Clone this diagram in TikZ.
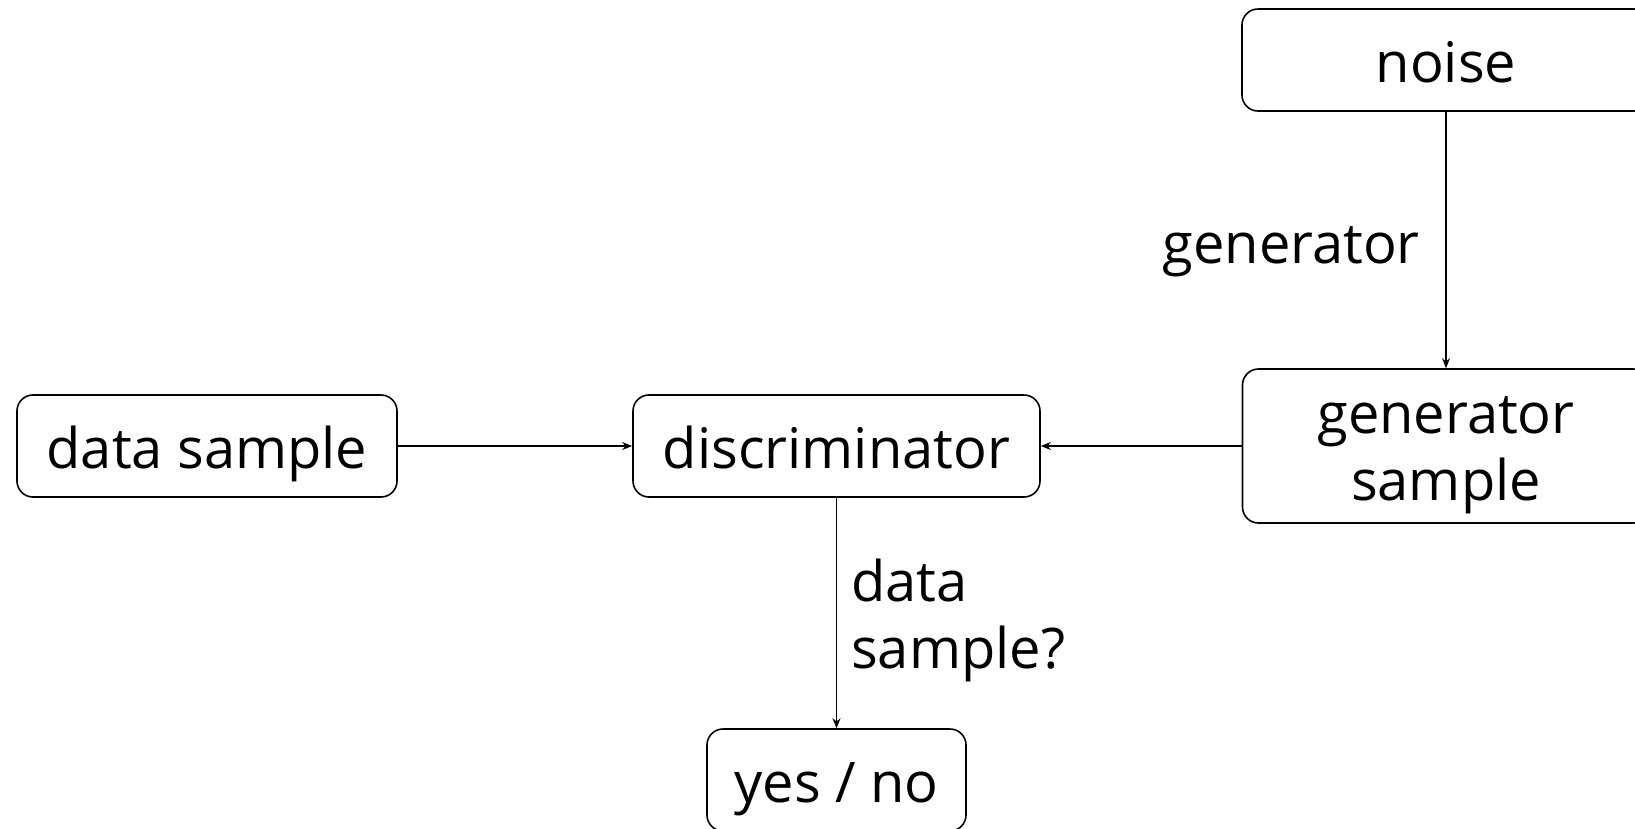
\documentclass[tikz,border=0pt]{standalone}
\usepackage{fontspec}
\setmainfont{Open Sans}
\usetikzlibrary{arrows.meta}
\begin{document}
\begin{tikzpicture}[x=1pt,y=-1pt,
  box/.style={draw, line width=1.6pt, rounded corners=16pt, inner sep=0pt, align=center,
    font=\fontsize{56}{67}\selectfont, text height=52pt, text depth=8pt},
  lbl/.style={inner sep=0pt, font=\fontsize{56}{67}\selectfont},
  conn/.style={line width=1.6pt, -{Stealth[length=10pt,width=8pt]}}]
\useasboundingbox (0,0) rectangle (1635,828);
\clip (0,0) rectangle (1635,828);
\node[box, minimum width=408pt, minimum height=102pt] (noise) at (1446,60) {noise};
\node[box, minimum width=407pt, minimum height=154pt, text height=110pt, text depth=2pt] (gen) at (1446,446) {generator\\sample};
\node[box, minimum width=380pt, minimum height=102pt] (data) at (207,446) {data sample};
\node[box, minimum width=407pt, minimum height=102pt] (disc) at (836.5,446) {discriminator};
\node[box, minimum width=259pt, minimum height=102pt] (yn) at (836.5,780) {yes / no};
\draw[conn] (noise) -- (gen);
\draw[conn] (data) -- (disc);
\draw[conn] (gen) -- (disc);
\draw[conn] (disc) -- (yn);
\node[lbl, anchor=base east] (glbl) at (1420,263) {generator};
\node[lbl, anchor=base west, align=left] (dlbl) at (851,668) {data\\sample?};
\end{tikzpicture}
\end{document}
